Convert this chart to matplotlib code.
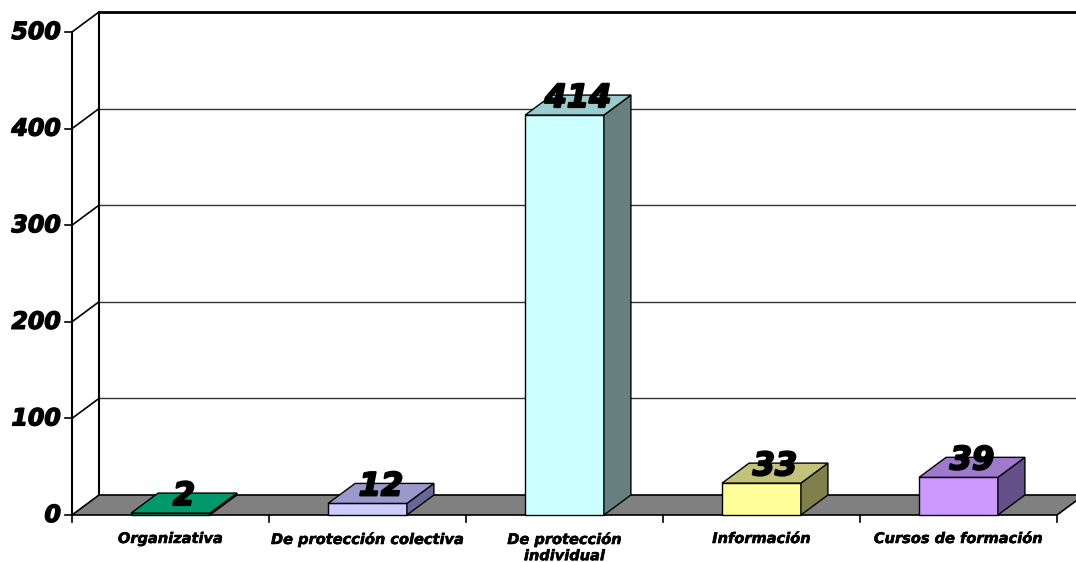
import numpy as np
import matplotlib.pyplot as plt
from matplotlib.patches import Polygon
from matplotlib.font_manager import FontProperties
import matplotlib.patheffects as pe

categories = ["Organizativa", "De protección colectiva", "De protección\nindividual",
              "Información", "Cursos de formación"]
values = [2, 12, 414, 33, 39]
yticks = [0, 100, 200, 300, 400, 500]

# face colours: front, top, side
front_cols = ["#009966", "#ccccff", "#ccffff", "#ffff99", "#cc99ff"]
top_cols = ["#00996b", "#9999cc", "#99cccc", "#c2c27a", "#9f7acc"]
side_cols = ["#006644", "#666699", "#668080", "#80804d", "#66508a"]

def bi(size):
    return FontProperties(family="DejaVu Sans", weight="bold", style="oblique", size=size)

def heavy(w):
    # thicken glyphs a bit
    return [pe.withStroke(linewidth=w, foreground="black")]

fig = plt.figure(figsize=(10.76, 5.62), dpi=100)
ax = fig.add_axes([0, 0, 1, 1])

# pixel layout -> data units
px_u = 197.0          # pixels per category
px_v = 0.966          # pixels per value unit
x0, y0 = 72, 515      # front origin in pixels
ax.set_xlim(-x0 / px_u, (1076 - x0) / px_u)
ax.set_ylim(-(562 - y0) / px_v, y0 / px_v)
ax.axis("off")

du = 27 / px_u        # depth offset
dv = 20 / px_v
n = len(categories)
ymax = yticks[-1]

# back wall gridlines
for t in yticks[1:]:
    lw = 2.0 if t == ymax else 1.0
    c = "black" if t == ymax else "#333333"
    ax.plot([du, n + du + 1], [t + dv, t + dv], color=c, lw=lw, zorder=1)

# left wall
ax.plot([0, 0], [0, ymax], color="black", lw=1.5, zorder=2)
ax.plot([du, du], [dv, ymax + dv], color="black", lw=1.5, zorder=2)
for t in yticks[1:]:
    ax.plot([0, du], [t, t + dv], color="black", lw=1.2, zorder=2)
    ax.plot([-7 / px_u, 0], [t, t], color="black", lw=1.2, zorder=2)
ax.plot([-7 / px_u, 0], [0, 0], color="black", lw=1.2, zorder=2)

for t in yticks:
    ax.text(-11 / px_u, t, str(t), ha="right", va="center",
            fontproperties=bi(17), path_effects=heavy(1.0), zorder=5)

# floor
floor = Polygon([(0, 0), (n, 0), (n + du, dv), (du, dv)], closed=True,
                facecolor="#808080", edgecolor="black", lw=1.2, zorder=3)
ax.add_patch(floor)

# x ticks and category labels
for i in range(n + 1):
    ax.plot([i, i], [0, -7 / px_v], color="black", lw=1.2, zorder=3)
for i, lab in enumerate(categories):
    ax.text(i + 0.5, -16 / px_v, lab, ha="center", va="top",
            fontproperties=bi(10.5), linespacing=1.1,
            path_effects=heavy(0.4), zorder=5)

# 3D bars
w = 0.2
for i, v in enumerate(values):
    c = i + 0.5
    front = Polygon([(c - w, 0), (c + w, 0), (c + w, v), (c - w, v)],
                    facecolor=front_cols[i], edgecolor="black", lw=1.0, zorder=4)
    top = Polygon([(c - w, v), (c + w, v), (c + w + du, v + dv), (c - w + du, v + dv)],
                  facecolor=top_cols[i], edgecolor="black", lw=1.0, zorder=4)
    side = Polygon([(c + w, 0), (c + w + du, dv), (c + w + du, v + dv), (c + w, v)],
                   facecolor=side_cols[i], edgecolor="black", lw=1.0, zorder=4)
    for p in (front, side, top):
        ax.add_patch(p)
    ax.text(c + du / 2, v + dv / 2 - 2 / px_v, str(v), ha="center", va="baseline",
            fontproperties=bi(23), path_effects=heavy(1.5), zorder=6)

fig.savefig("out.png", dpi=100)
